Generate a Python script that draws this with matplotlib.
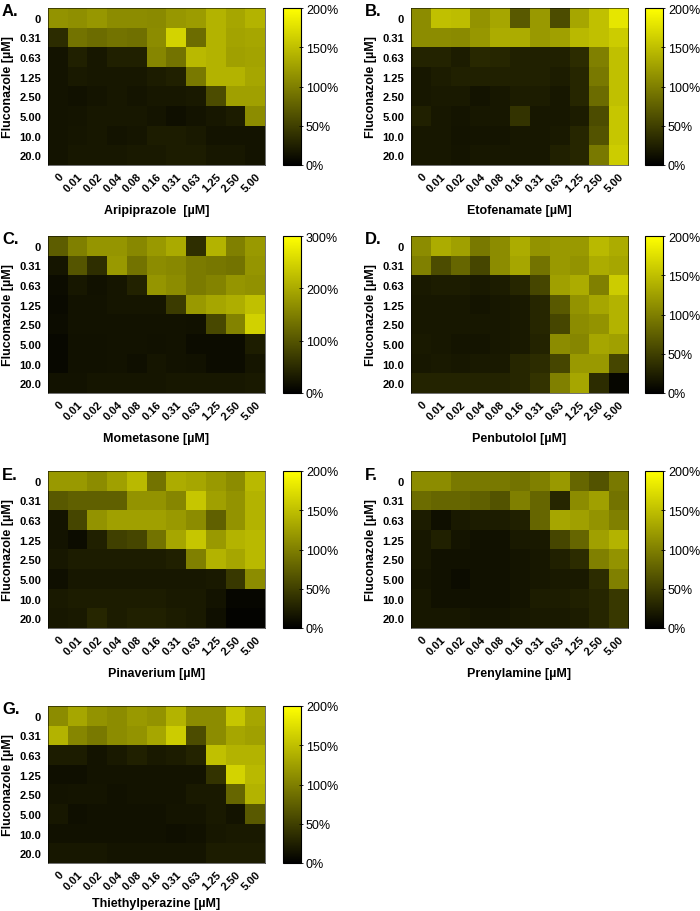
import numpy as np
import matplotlib
matplotlib.use("Agg")
import matplotlib.pyplot as plt
from matplotlib.colors import LinearSegmentedColormap

plt.rcParams['font.family'] = ['Liberation Sans', 'DejaVu Sans']

# concentrations
flu_labels = ["0", "0.31", "0.63", "1.25", "2.50", "5.00", "10.0", "20.0"]
drug_labels = ["0", "0.01", "0.02", "0.04", "0.08", "0.16", "0.31", "0.63", "1.25", "2.50", "5.00"]

# growth (% of control), rows = fluconazole, cols = drug
aripiprazole = [
    [115, 112, 118, 110, 110, 108, 118, 122, 140, 130, 140],
    [35, 90, 85, 90, 88, 110, 165, 85, 140, 128, 130],
    [15, 25, 18, 25, 25, 105, 90, 145, 140, 125, 128],
    [15, 20, 18, 18, 18, 22, 25, 95, 140, 140, 130],
    [15, 14, 16, 18, 16, 18, 18, 20, 60, 125, 125],
    [15, 16, 18, 18, 18, 16, 12, 15, 18, 22, 110],
    [15, 17, 18, 15, 17, 22, 22, 20, 15, 15, 15],
    [15, 18, 18, 18, 20, 20, 22, 22, 18, 18, 15],
]
etofenamate = [
    [110, 150, 148, 115, 130, 70, 120, 60, 130, 150, 180],
    [110, 110, 108, 118, 135, 135, 120, 125, 145, 150, 160],
    [28, 28, 22, 32, 30, 25, 25, 25, 35, 100, 150],
    [18, 22, 25, 25, 25, 25, 25, 22, 30, 95, 150],
    [18, 20, 20, 15, 18, 22, 22, 18, 30, 85, 150],
    [25, 18, 16, 18, 18, 40, 18, 18, 22, 60, 155],
    [18, 18, 15, 16, 16, 18, 18, 20, 30, 65, 155],
    [18, 18, 16, 18, 18, 18, 18, 25, 30, 95, 160],
]
mometasone = [
    [110, 150, 175, 175, 160, 180, 200, 55, 210, 150, 180],
    [25, 100, 55, 180, 135, 165, 160, 145, 140, 135, 175],
    [15, 28, 20, 25, 40, 175, 165, 145, 155, 175, 170],
    [12, 22, 22, 25, 25, 25, 70, 180, 195, 205, 225],
    [15, 22, 22, 22, 22, 22, 22, 20, 85, 155, 245],
    [10, 20, 20, 22, 22, 20, 22, 15, 15, 15, 35],
    [10, 20, 20, 22, 18, 25, 22, 20, 15, 15, 25],
    [22, 22, 25, 25, 25, 25, 28, 28, 28, 28, 30],
]
penbutolol = [
    [110, 135, 125, 95, 110, 135, 115, 120, 120, 145, 135],
    [100, 60, 80, 55, 110, 130, 90, 120, 115, 135, 130],
    [20, 22, 22, 20, 22, 30, 55, 125, 135, 100, 160],
    [18, 18, 18, 16, 18, 20, 30, 70, 115, 130, 140],
    [18, 18, 18, 18, 18, 20, 30, 55, 110, 115, 140],
    [20, 18, 16, 16, 18, 20, 28, 110, 105, 130, 125],
    [18, 20, 18, 20, 20, 30, 35, 55, 120, 120, 55],
    [28, 28, 28, 28, 28, 30, 40, 100, 130, 35, 5],
]
pinaverium = [
    [120, 120, 110, 125, 145, 90, 135, 130, 120, 110, 145],
    [70, 75, 75, 75, 115, 115, 105, 155, 125, 115, 140],
    [15, 55, 115, 125, 125, 125, 120, 110, 75, 115, 140],
    [15, 10, 25, 50, 55, 90, 130, 155, 120, 140, 145],
    [18, 22, 22, 22, 22, 22, 25, 100, 140, 130, 145],
    [12, 18, 18, 18, 18, 18, 18, 18, 20, 45, 110],
    [20, 22, 22, 22, 22, 22, 20, 20, 15, 5, 5],
    [18, 20, 30, 22, 25, 25, 22, 20, 12, 3, 3],
]
prenylamine = [
    [110, 110, 95, 95, 95, 90, 100, 120, 80, 65, 95],
    [85, 80, 80, 75, 65, 100, 80, 30, 110, 125, 90],
    [22, 12, 20, 22, 22, 25, 80, 130, 125, 115, 100],
    [18, 25, 16, 14, 14, 20, 20, 55, 80, 125, 140],
    [18, 14, 14, 14, 14, 16, 18, 25, 35, 100, 115],
    [16, 14, 10, 14, 14, 16, 18, 20, 20, 35, 100],
    [18, 14, 14, 14, 14, 16, 22, 22, 25, 30, 45],
    [18, 18, 18, 16, 16, 18, 20, 20, 22, 30, 45],
]
thiethylperazine = [
    [110, 130, 115, 110, 120, 115, 140, 110, 110, 155, 130],
    [140, 105, 95, 110, 115, 130, 160, 60, 110, 130, 125],
    [22, 22, 15, 20, 25, 20, 22, 28, 150, 140, 140],
    [12, 12, 15, 15, 15, 15, 15, 15, 40, 165, 145],
    [15, 16, 16, 14, 15, 15, 15, 20, 20, 80, 140],
    [18, 12, 14, 14, 14, 14, 16, 16, 20, 15, 70],
    [14, 14, 14, 14, 14, 14, 12, 14, 18, 20, 20],
    [18, 18, 18, 16, 16, 16, 16, 16, 22, 22, 22],
]

panels = [
    ("A.", "Aripiprazole  [\u00b5M]", aripiprazole, 200),
    ("B.", "Etofenamate [\u00b5M]", etofenamate, 200),
    ("C.", "Mometasone [\u00b5M]", mometasone, 300),
    ("D.", "Penbutolol [\u00b5M]", penbutolol, 200),
    ("E.", "Pinaverium [\u00b5M]", pinaverium, 200),
    ("F.", "Prenylamine [\u00b5M]", prenylamine, 200),
    ("G.", "Thiethylperazine [\u00b5M]", thiethylperazine, 200),
]

cmap = LinearSegmentedColormap.from_list("ky", ["#000000", "#ffff00"])

W, H = 700, 912
fig = plt.figure(figsize=(7, 9.12), dpi=100)

tops = [9, 9, 237, 237, 472, 472, 707]
lefts = [48, 411, 48, 411, 48, 411, 48]
cb_lefts = [283, 645, 283, 645, 283, 645, 283]
xlabel_pads = [8, 8, 8, 8, 8, 8, 4]
hm_w, hm_h, cb_w = 217, 157, 18

for i, (letter, xlabel, data, vmax) in enumerate(panels):
    top, left = tops[i], lefts[i]
    ax = fig.add_axes([left / W, 1 - (top + hm_h) / H, hm_w / W, hm_h / H])
    im = ax.imshow(np.array(data), cmap=cmap, vmin=0, vmax=vmax,
                   aspect="auto", interpolation="nearest")
    ax.set_xticks(range(len(drug_labels)))
    ax.set_xticklabels(drug_labels, rotation=45, ha="right",
                       rotation_mode="anchor", fontsize=8, fontweight="bold")
    ax.set_yticks(range(len(flu_labels)))
    ax.set_yticklabels(flu_labels, fontsize=8, fontweight="bold")
    ax.tick_params(axis="y", length=0, pad=5)
    ax.tick_params(axis="x", length=0, pad=4)
    for s in ax.spines.values():
        s.set_linewidth(0.4)
    ax.set_xlabel(xlabel, fontsize=9, fontweight="bold", labelpad=xlabel_pads[i])
    ax.set_ylabel("Fluconazole [\u00b5M]", fontsize=9, fontweight="bold", labelpad=4)
    fig.text((left - 46) / W, 1 - (top + 3) / H, letter, fontsize=12,
             fontweight="bold", ha="left", va="center")

    cax = fig.add_axes([cb_lefts[i] / W, 1 - (top + hm_h) / H, cb_w / W, hm_h / H])
    cb = fig.colorbar(im, cax=cax)
    ticks = np.linspace(0, vmax, 5 if vmax == 200 else 4)
    cb.set_ticks(ticks)
    cb.set_ticklabels([f"{int(t)}%" for t in ticks])
    cb.ax.tick_params(labelsize=9, length=3, width=0.6, direction="inout", pad=2)
    cb.outline.set_linewidth(0.8)

fig.savefig("out.png", dpi=100)
